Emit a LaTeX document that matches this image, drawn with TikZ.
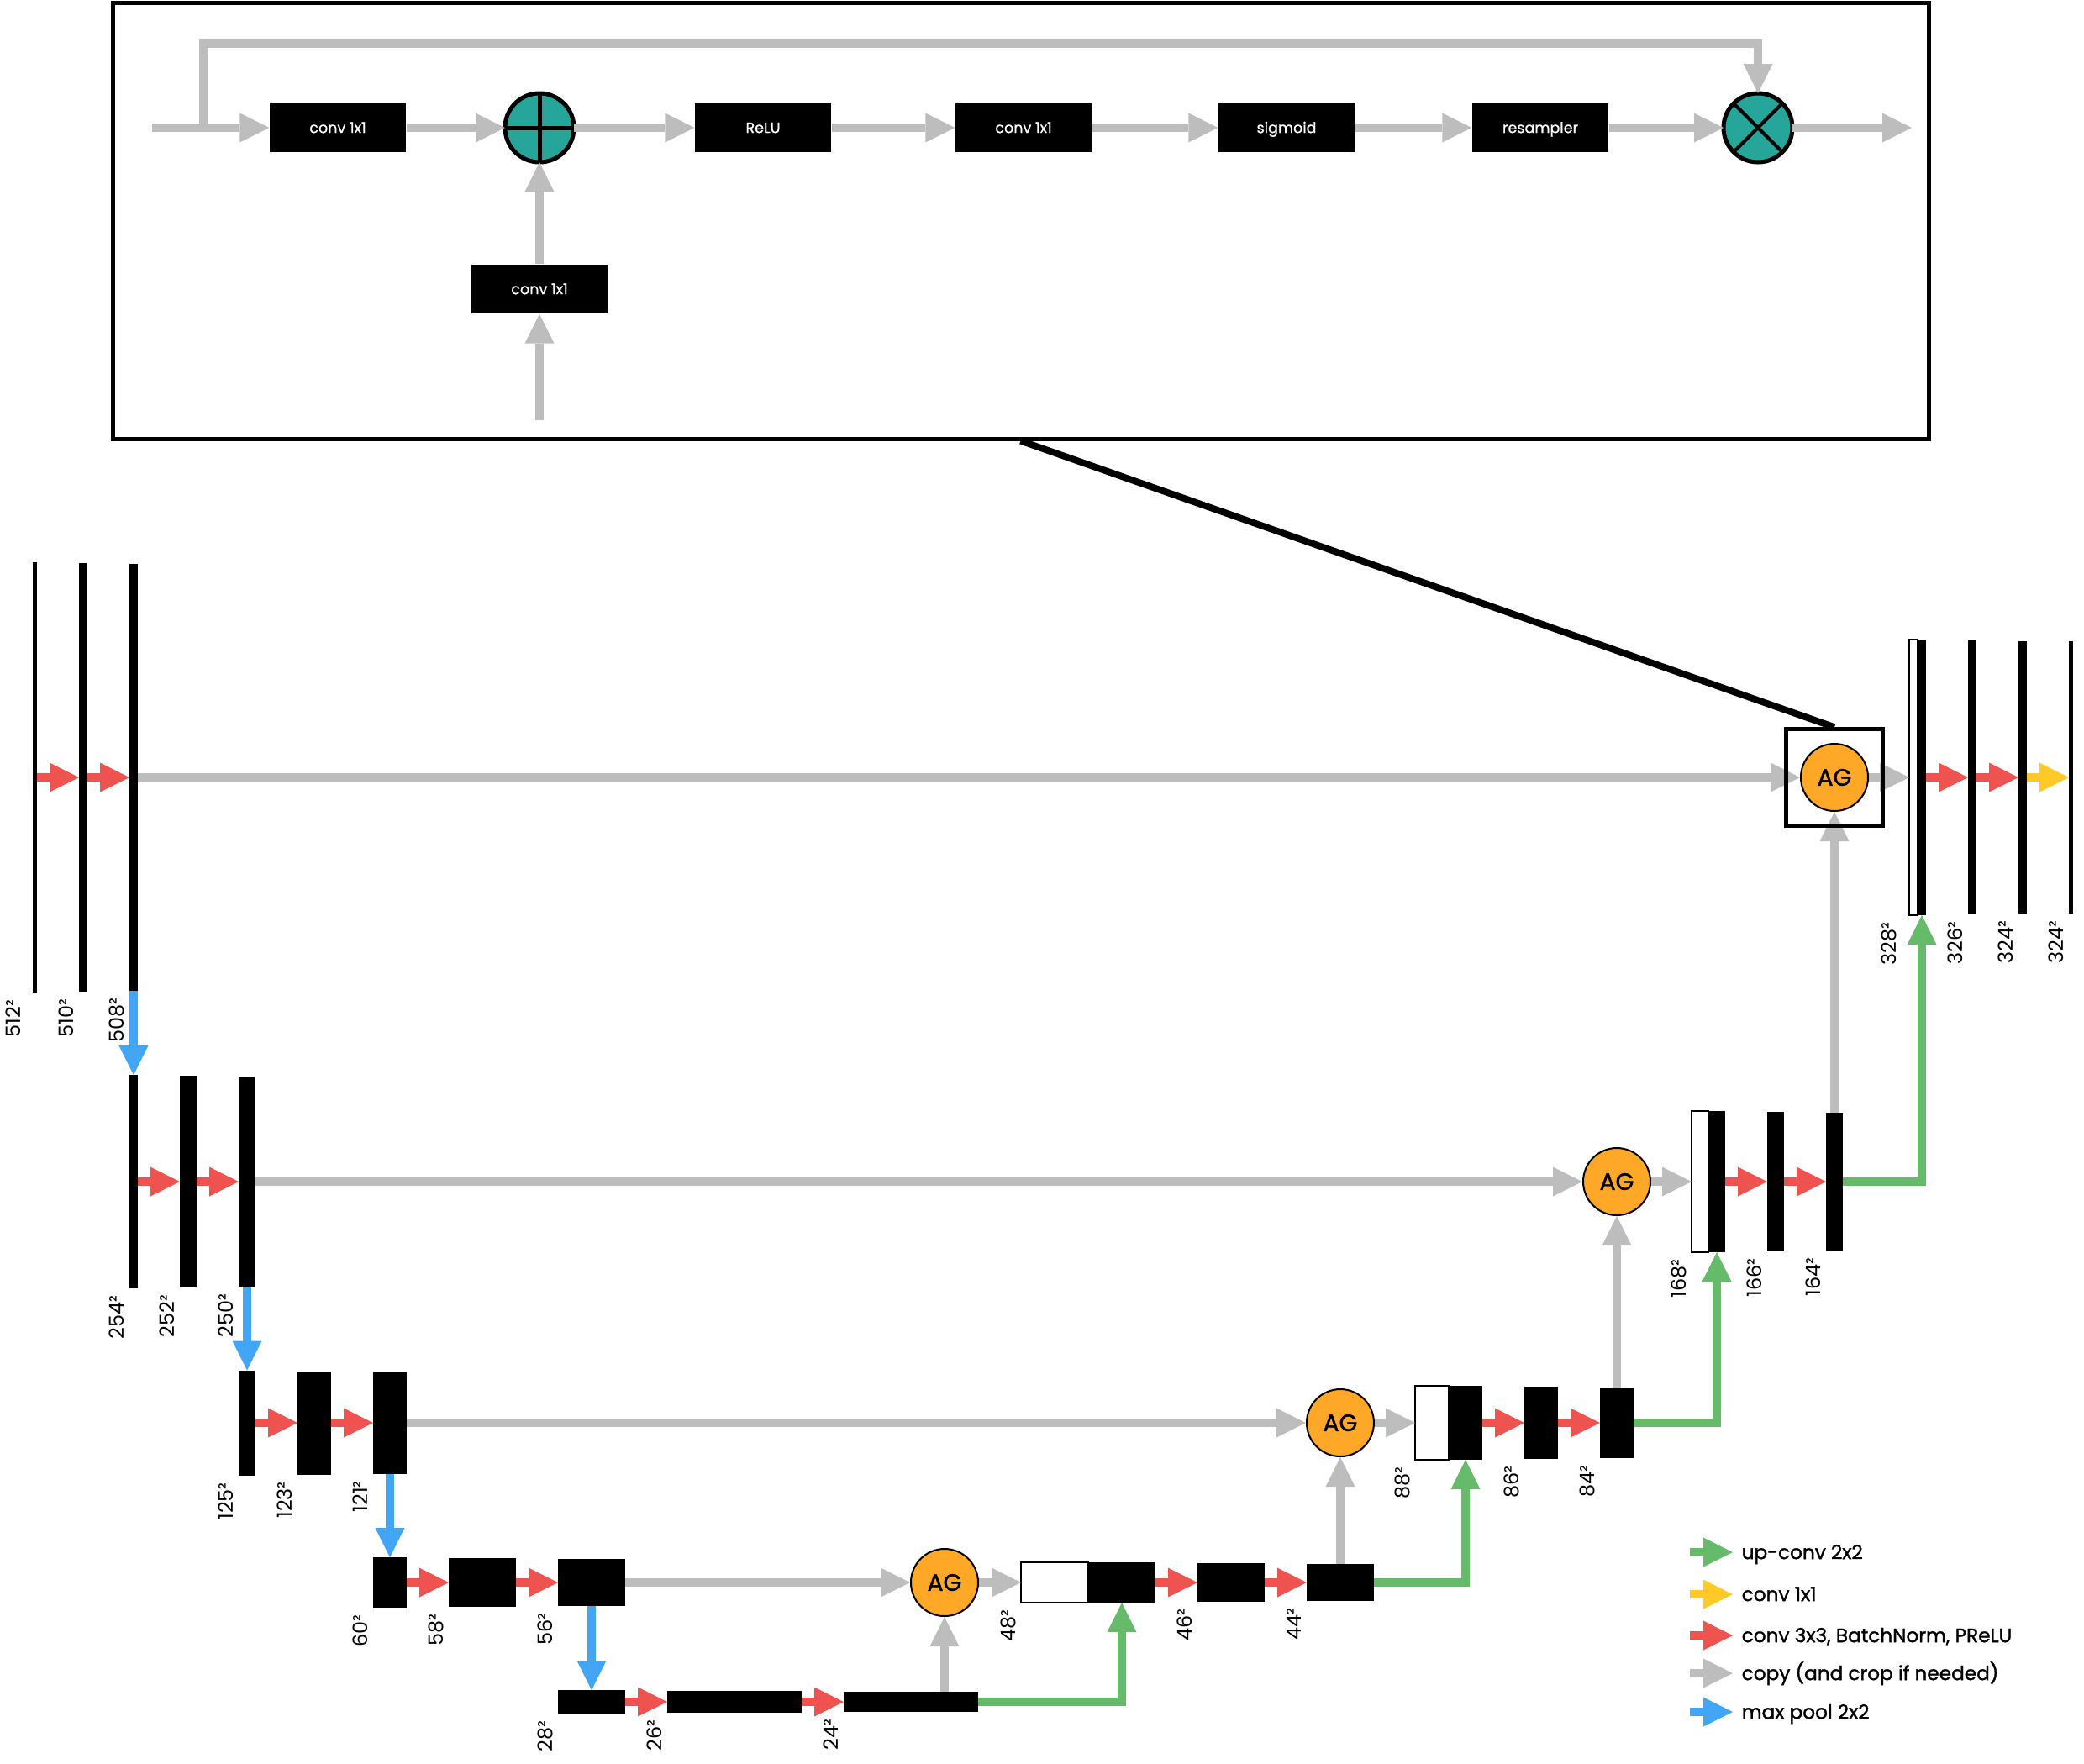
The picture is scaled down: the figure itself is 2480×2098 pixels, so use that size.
\documentclass[tikz,border=0pt]{standalone}
\usepackage{fontspec}
\setmainfont{Poppins}
\newfontfamily\medfont{Poppins}[FakeBold=0.8]
\newfontfamily\legfont{Poppins}[FakeBold=1.4]
\usepackage{tikz}
\usetikzlibrary{arrows.meta,calc,positioning}
\definecolor{CopyGray}{HTML}{BDBDBD}
\definecolor{ConvRed}{HTML}{EF5350}
\definecolor{PoolBlue}{HTML}{42A5F5}
\definecolor{UpGreen}{HTML}{66BB6A}
\definecolor{OutYellow}{HTML}{FFCA28}
\definecolor{GateOrange}{HTML}{FFA726}
\definecolor{OpTeal}{HTML}{26A69A}
\newcommand{\szlab}[3][0]{\node[szl] at ($(#2.south west)+(-6-#1,8)$) {#3};}

\begin{document}
\begin{tikzpicture}[x=0.1mm, y=-0.1mm,
  fl/.style={line width=1mm, -{Triangle[length=3.5mm,width=3.5mm,line width=0pt]}},
  cpy/.style={fl, draw=CopyGray},
  cnv/.style={fl, draw=ConvRed},
  mxp/.style={fl, draw=PoolBlue},
  upc/.style={fl, draw=UpGreen},
  fin/.style={fl, draw=OutYellow},
  fm/.style 2 args={fill=black, inner sep=0pt, outer sep=0pt,
                    minimum width=#1*0.1mm, minimum height=#2*0.1mm},
  wm/.style 2 args={fm={#1}{#2}, fill=white, draw=black, line width=0.15mm},
  ag/.style={circle, draw=black, line width=0.2mm, fill=GateOrange, minimum size=8mm,
             inner sep=0pt, font=\legfont\fontsize{8}{8}\selectfont},
  op/.style={circle, draw=black, line width=0.5mm, fill=OpTeal, minimum size=8.2mm,
             inner sep=0pt, outer sep=0pt},
  blk/.style={fill=black, text=white, minimum width=16.2mm, minimum height=5.8mm,
              inner sep=0pt, text height=3.5pt, text depth=0pt,
              font=\medfont\fontsize{5}{5}\selectfont},
  szl/.style={rotate=90, anchor=south east, inner sep=0pt, text depth=0pt,
              font=\fontsize{6.8}{6.8}\selectfont},
  leg/.style={anchor=west, inner sep=0pt, text height=4.6pt, text depth=0pt,
              font=\legfont\fontsize{6.6}{6.6}\selectfont}]
  \useasboundingbox (0,0) rectangle (2480,2098);

  % attention gate detail
  \node[draw, line width=0.5mm, inner sep=0pt, minimum width=216.1mm,
        minimum height=51.9mm] (zoomframe) at (1214.5,262.5) {};
  \node[blk] (wx)   at (402,152)  {conv 1x1};
  \node[op]  (add)  at (642,152)  {};
  \node[blk] (relu) at (908,152)  {ReLU};
  \node[blk] (psi)  at (1218,152) {conv 1x1};
  \node[blk] (sig)  at (1531,152) {sigmoid};
  \node[blk] (rsm)  at (1833,152) {resampler};
  \node[op]  (mul)  at (2092,152) {};
  \node[blk] (wg)   at (642,344)  {conv 1x1};
  \draw[line width=0.5mm] (add.north) -- (add.south) (add.west) -- (add.east);
  \draw[line width=0.4mm] (mul.north east) -- (mul.south west)
                          (mul.north west) -- (mul.south east);
  \coordinate (xin) at (181,152);
  \coordinate (xsplit) at (242,152);
  \coordinate (xtop) at (242,52);
  \coordinate (xout) at (2275,152);
  \coordinate (gin) at (642,500);
  \draw[cpy] (xin) -- (wx.west);
  \draw[cpy] (xsplit) -- (xtop) -| (mul.north);
  \draw[cpy] (wx.east) -- (add.west);
  \draw[cpy] (add.east) -- (relu.west);
  \draw[cpy] (relu.east) -- (psi.west);
  \draw[cpy] (psi.east) -- (sig.west);
  \draw[cpy] (sig.east) -- (rsm.west);
  \draw[cpy] (rsm.east) -- (mul.west);
  \draw[cpy] (mul.east) -- (xout);
  \draw[cpy] (gin) -- (wg.south);
  \draw[cpy] (wg.north) -- (add.south);

  % contracting path
  \node[fm={5}{512}]   (e1a) at (41.5,925) {};
  \node[fm={10}{510}]  (e1b) at (99,925)   {};
  \node[fm={10}{508}]  (e1c) at (159,925)  {};
  \node[fm={10}{254}]  (e2a) at (159,1406) {};
  \node[fm={20}{252}]  (e2b) at (224,1406) {};
  \node[fm={20}{250}]  (e2c) at (294,1406) {};
  \node[fm={20}{125}]  (e3a) at (294,1693) {};
  \node[fm={40}{123}]  (e3b) at (374,1693) {};
  \node[fm={40}{121}]  (e3c) at (464,1693) {};
  \node[fm={40}{60}]   (e4a) at (464,1883) {};
  \node[fm={80}{58}]   (e4b) at (574,1883) {};
  \node[fm={80}{56}]   (e4c) at (704,1883) {};
  \node[fm={80}{28}]   (e5a) at (704,2025) {};
  \node[fm={160}{26}]  (e5b) at (874,2025) {};
  \node[fm={160}{24}]  (e5c) at (1084,2025) {};

  % expanding path
  \node[ag]            (ag4) at (1124,1883) {AG};
  \node[wm={80}{48}]   (w4)  at (1255,1883) {};
  \node[fm={80}{48}]   (d4a) at (1335,1883) {};
  \node[fm={80}{46}]   (d4b) at (1465,1883) {};
  \node[fm={80}{44}]   (d4c) at (1595,1883) {};
  \node[ag]            (ag3) at (1595,1693) {AG};
  \node[wm={40}{88}]   (w3)  at (1704,1693) {};
  \node[fm={40}{88}]   (d3a) at (1744,1693) {};
  \node[fm={40}{86}]   (d3b) at (1834,1693) {};
  \node[fm={40}{84}]   (d3c) at (1924,1693) {};
  \node[ag]            (ag2) at (1924,1406) {AG};
  \node[wm={20}{168}]  (w2)  at (2023,1406) {};
  \node[fm={20}{168}]  (d2a) at (2043,1406) {};
  \node[fm={20}{166}]  (d2b) at (2113,1406) {};
  \node[fm={20}{164}]  (d2c) at (2183,1406) {};
  \node[ag]            (ag1) at (2183,925)  {AG};
  \node[wm={10}{328}]  (w1)  at (2277,925)  {};
  \node[fm={10}{328}]  (d1a) at (2287,925)  {};
  \node[fm={10}{326}]  (d1b) at (2347,925)  {};
  \node[fm={10}{324}]  (d1c) at (2407,925)  {};
  \node[fm={5}{324}]   (d1d) at (2464.5,925) {};

  \foreach \a/\b in {e1a/e1b,e1b/e1c,e2a/e2b,e2b/e2c,e3a/e3b,e3b/e3c,e4a/e4b,e4b/e4c,
                     e5a/e5b,e5b/e5c,d4a/d4b,d4b/d4c,d3a/d3b,d3b/d3c,d2a/d2b,d2b/d2c,
                     d1a/d1b,d1b/d1c}
    \draw[cnv] (\a.east) -- (\b.west);
  \foreach \a/\b in {e1c/e2a,e2c/e3a,e3c/e4a,e4c/e5a}
    \draw[mxp] (\a.south) -- (\b.north);
  \draw[fin] (d1c.east) -- (d1d.west);

  % skip connections and gates
  \draw[cpy] (e1c.east) -- (ag1.west);
  \draw[cpy] (e2c.east) -- (ag2.west);
  \draw[cpy] (e3c.east) -- (ag3.west);
  \draw[cpy] (e4c.east) -- (ag4.west);
  \foreach \g/\w in {ag1/w1,ag2/w2,ag3/w3,ag4/w4}
    \draw[cpy] (\g.east) -- (\w.west);
  \draw[cpy] (ag4 |- e5c.north) -- (ag4.south);
  \draw[cpy] (d4c.north) -- (ag3.south);
  \draw[cpy] (d3c.north) -- (ag2.south);
  \draw[cpy] (d2c.north) -- (ag1.south);

  % up-convolutions
  \draw[upc] (e5c.east) -| (d4a.south);
  \draw[upc] (d4c.east) -| (d3a.south);
  \draw[upc] (d3c.east) -| (d2a.south);
  \draw[upc] (d2c.east) -| (d1a.south);

  \node[draw, line width=0.45mm, minimum size=11.5mm, inner sep=0pt] (ag1box) at (2183,925) {};
  \draw[line width=0.8mm] (zoomframe.south) -- (ag1box.north);

  % sizes
  \szlab[8]{e1a}{512²} \szlab{e1b}{510²} \szlab{e1c}{508²}
  \szlab{e2a}{254²} \szlab{e2b}{252²} \szlab{e2c}{250²}
  \szlab{e3a}{125²} \szlab{e3b}{123²} \szlab{e3c}{121²}
  \szlab{e4a}{60²} \szlab{e4b}{58²} \szlab{e4c}{56²}
  \szlab{e5a}{28²} \szlab{e5b}{26²} \szlab{e5c}{24²}
  \szlab{w4}{48²} \szlab{d4b}{46²} \szlab{d4c}{44²}
  \szlab{w3}{88²} \szlab{d3b}{86²} \szlab{d3c}{84²}
  \szlab{w2}{168²} \szlab{d2b}{166²} \szlab{d2c}{164²}
  \szlab[9]{w1}{328²} \szlab{d1b}{326²} \szlab{d1c}{324²} \szlab{d1d}{324²}

  % legend
  \foreach \c/\t/\y [count=\i] in {upc/up-conv 2x2/1847, fin/conv 1x1/1897,
      cnv/{conv 3x3, BatchNorm, PReLU}/1946, cpy/copy (and crop if needed)/1991,
      mxp/max pool 2x2/2037} {
    \coordinate (ls\i) at (2011,\y);
    \coordinate (le\i) at (2062,\y);
    \draw[\c] (ls\i) -- (le\i);
    \node[leg, right=1mm of le\i] (lt\i) {\t};
  }
\end{tikzpicture}
\end{document}
